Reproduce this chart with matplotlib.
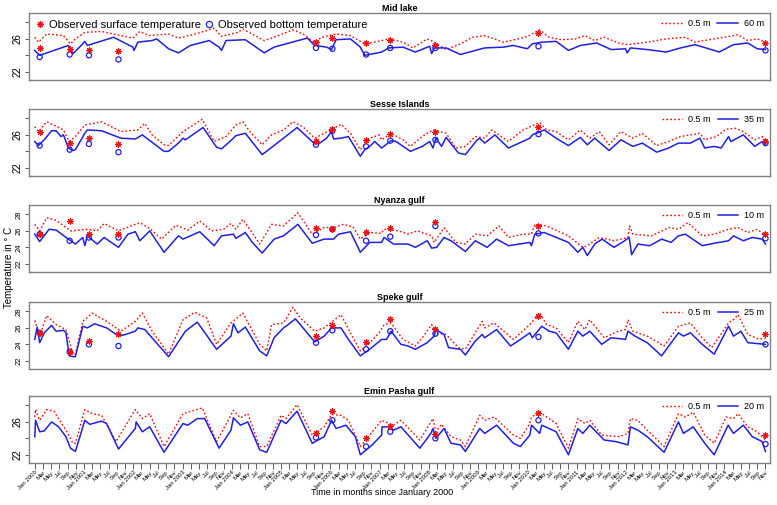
import matplotlib
matplotlib.use("Agg")
import matplotlib.pyplot as plt
from matplotlib.lines import Line2D

plt.rcParams['font.family'] = ['Liberation Sans', 'DejaVu Sans']

# months since Jan 2000
mid_bot_m = [0, 1.2, 8.2, 9.3, 11.7, 12.2, 12.8, 19.2, 23.9, 24.2, 25.1, 28.6, 29.7, 32.6, 35.0, 37.9, 42.5, 44.9, 45.5, 46.6,
             51.3, 55.9, 58.3, 61.2, 66.4, 68.2, 71.1, 72.3, 73.4, 76.9, 79.3, 80.4, 84.5, 86.2, 89.7, 92.7, 96.2, 96.7, 97.3,
             100.2, 103.7, 106.6, 109.6, 114.2, 116.6, 120.0, 121.2, 123.5, 127.0, 130.0, 132.9, 136.9, 140.4, 143.9, 144.3,
             145.1, 149.2, 153.8, 157.3, 160.8, 165.5, 166.7, 170.2, 173.7, 176.0, 178]
mid_bot_t = [24.6, 24.0, 25.2, 24.2, 25.4, 25.7, 25.2, 26.2, 25.0, 24.6, 25.6, 25.8, 26.0, 24.8, 24.3, 25.2, 25.8, 25.0, 24.6, 25.8,
             25.9, 24.3, 25.0, 25.4, 26.1, 25.2, 25.0, 24.7, 25.9, 26.0, 25.0, 24.0, 24.4, 24.9, 25.0, 24.4, 25.1, 24.2, 24.9,
             24.9, 24.1, 24.5, 24.9, 25.0, 25.2, 24.8, 25.4, 25.6, 25.7, 24.6, 25.2, 25.5, 24.7, 24.8, 24.3,
             24.9, 24.7, 24.4, 24.9, 25.3, 24.6, 24.4, 25.3, 25.5, 24.8, 24.7]
mid_surf_m = [0, 0.9, 2.9, 7.0, 8.7, 9.9, 12.2, 16.3, 21.0, 23.9, 25.6, 28.0, 32.6, 35.0, 38.5, 43.7, 45.5, 49.5, 50.7, 55.9,
              58.3, 62.9, 65.3, 68.2, 69.9, 73.4, 76.9, 80.4, 82.8, 86.2, 89.7, 92.1, 95.6, 97.3, 100.2, 103.7, 106.6, 109.6,
              114.2, 117.7, 120.0, 123.0, 125.3, 128.2, 131.7, 134.0, 136.4, 138.7, 142.2, 144.5, 149.2, 153.8, 158.5, 160.8,
              165.5, 171.3, 173.7, 176.0, 178]
mid_surf_t = [26.2, 25.6, 26.6, 26.4, 25.4, 26.0, 26.8, 26.9, 26.4, 26.1, 26.9, 26.4, 26.6, 26.1, 26.5, 27.3, 26.3, 26.8, 27.2, 25.8,
              26.2, 27.1, 26.6, 25.6, 26.2, 26.6, 26.4, 25.4, 25.6, 26.0, 25.6, 24.9, 26.0, 25.6, 24.7, 25.4, 26.2, 26.4,
              25.6, 26.0, 26.3, 27.1, 26.2, 25.9, 26.0, 26.4, 25.8, 26.2, 25.5, 25.3, 25.6, 26.0, 26.2, 25.6,
              26.0, 26.5, 25.8, 26.0, 25.6]

ses_bot_m = [0, 0.9, 2.3, 4.1, 5.2, 6.4, 7.0, 8.2, 9.3, 9.9, 12.2, 12.8, 16.3, 21.0, 24.5, 26.2, 31.5, 32.6, 35.0, 36.1, 36.7,
             41.0, 44.3, 45.5, 48.4, 49.0, 51.3, 55.4, 60.6, 63.9, 68.2, 69.4, 71.1, 72.3, 72.8, 74.6, 76.4, 79.3, 80.4, 81.6,
             82.8, 84.5, 86.8, 88.0, 91.5, 94.4, 96.2, 97.0, 97.7, 99.1, 100.2, 103.2, 104.9, 107.8, 108.4, 109.6, 112.1,
             115.4, 120.6, 121.2, 124.1, 127.0, 130.0, 132.9, 134.6, 136.4, 139.9, 142.8, 145.7, 148.0, 151.5, 154.4, 156.8,
             159.7, 162.0, 163.2, 165.5, 167.2, 169.0, 169.6, 172.6, 175.4, 177.2, 178]
ses_bot_t = [25.2, 24.7, 25.4, 26.5, 26.5, 25.8, 26.0, 24.4, 24.1, 24.2, 26.2, 26.6, 26.5, 25.6, 25.5, 26.0, 24.0, 24.0, 25.0, 25.6, 25.4,
             26.9, 24.5, 24.3, 25.6, 25.9, 26.2, 23.6, 25.6, 26.9, 24.9, 25.0, 25.6, 26.4, 25.5, 25.6, 25.8, 23.4, 24.2, 24.6,
             25.2, 24.4, 25.3, 25.2, 24.0, 24.6, 25.2, 24.4, 25.6, 24.6, 25.7, 23.8, 23.6, 25.4, 25.6, 25.0, 26.0,
             24.4, 25.6, 26.0, 26.6, 25.6, 24.7, 25.7, 24.8, 25.6, 24.1, 25.4, 24.6, 25.0, 23.9, 24.4, 25.0,
             25.0, 25.6, 24.4, 24.6, 24.4, 25.8, 25.2, 26.0, 24.6, 25.2, 24.8]
ses_surf_m = [0, 0.9, 2.9, 4.7, 7.0, 8.4, 9.9, 12.2, 16.3, 21.0, 25.1, 26.8, 28.6, 31.5, 32.6, 36.1, 40.8, 43.7, 46.6, 49.0, 50.7,
              52.4, 55.4, 57.7, 60.6, 62.9, 65.3, 68.2, 70.5, 72.8, 74.6, 76.9, 79.3, 81.6, 83.9, 84.5, 86.8, 89.7, 91.5, 94.4,
              96.2, 97.3, 100.2, 102.6, 104.9, 107.3, 109.6, 111.3, 115.4, 118.9, 123.0, 124.7, 127.0, 130.0, 132.9, 135.2,
              137.5, 139.9, 142.8, 145.7, 148.0, 151.5, 154.4, 157.3, 159.7, 162.0, 163.2, 166.1, 168.4, 170.7, 172.6, 175.4,
              177.2, 178]
ses_surf_t = [27.0, 26.4, 27.6, 27.2, 26.6, 25.2, 25.8, 27.2, 27.6, 26.4, 26.6, 27.4, 26.0, 24.8, 24.7, 26.4, 27.9, 25.2, 25.8, 27.2, 27.6,
              26.4, 24.8, 26.0, 26.6, 27.6, 27.0, 25.6, 26.2, 26.8, 27.3, 26.2, 24.2, 25.6, 26.0, 25.4, 26.2, 25.4, 24.6, 25.8,
              26.4, 26.6, 26.2, 24.4, 24.6, 25.8, 25.6, 26.6, 25.2, 26.6, 27.5, 26.6, 26.4, 25.4, 26.6, 25.6,
              26.4, 24.8, 26.4, 25.6, 26.2, 24.7, 25.2, 25.8, 26.0, 26.2, 25.4, 25.8, 26.7, 26.8, 26.4, 25.4,
              25.8, 25.4]

nya_bot_m = [0, 1.2, 3.5, 5.2, 8.2, 9.9, 11.7, 12.2, 12.8, 15.2, 16.9, 20.4, 22.7, 24.5, 25.6, 28.0, 31.5, 35.0, 36.1, 40.2, 43.7,
             45.5, 48.4, 49.0, 51.3, 53.0, 55.4, 58.3, 60.6, 64.1, 67.6, 70.5, 72.8, 74.0, 76.9, 79.3, 81.6, 84.5, 85.1, 87.4,
             90.9, 92.7, 95.6, 96.7, 97.9, 99.7, 101.4, 104.9, 107.3, 110.2, 112.5, 115.4, 120.6, 121.0, 121.8, 124.1, 130.0,
             132.3, 133.5, 134.6, 136.4, 138.2, 141.1, 143.4, 144.8, 145.4, 146.9, 149.8, 152.7, 155.0, 156.8, 158.5, 162.6,
             165.5, 169.0, 170.2, 172.6, 174.8, 177.2, 178]
nya_bot_t = [25.6, 24.7, 26.2, 26.1, 25.0, 24.4, 25.2, 24.2, 25.4, 24.4, 25.2, 24.0, 25.6, 25.9, 24.8, 26.0, 23.4, 25.4, 25.0, 25.9, 24.2,
             25.4, 25.6, 25.1, 25.8, 24.6, 23.3, 25.0, 25.4, 26.8, 24.5, 25.0, 25.0, 25.6, 25.9, 23.4, 24.6, 24.6, 25.2, 24.4,
             24.4, 24.0, 24.8, 23.9, 24.0, 25.2, 24.8, 23.5, 24.8, 24.0, 25.0, 24.2, 24.6, 24.2, 25.6, 25.8, 24.6,
             23.4, 24.0, 23.0, 24.4, 25.0, 24.0, 24.7, 25.2, 23.1, 24.4, 24.2, 25.0, 24.6, 25.4, 25.6, 24.2,
             24.5, 24.8, 25.4, 24.8, 25.2, 25.0, 24.4]
nya_surf_m = [0, 1.2, 2.9, 5.2, 8.7, 12.8, 15.2, 16.9, 20.4, 24.5, 25.6, 28.0, 30.9, 34.4, 37.3, 40.2, 43.1, 46.0, 47.8, 49.0, 50.7,
              54.8, 57.7, 60.6, 64.1, 67.6, 70.5, 72.8, 75.2, 77.5, 79.3, 81.6, 84.5, 85.1, 88.6, 90.9, 93.2, 96.7, 97.3, 99.7,
              102.6, 104.9, 107.3, 110.2, 113.1, 115.4, 118.9, 121.0, 121.8, 124.7, 130.0, 133.5, 134.6, 137.5, 141.1, 144.5,
              144.9, 145.7, 150.3, 154.4, 156.8, 159.1, 162.6, 165.5, 169.0, 171.3, 173.7, 176.0, 178]
nya_surf_t = [26.8, 26.0, 27.6, 27.3, 26.0, 26.2, 26.0, 26.9, 26.0, 26.8, 27.0, 26.3, 25.0, 26.7, 26.1, 27.2, 26.0, 26.2, 26.9, 26.2, 27.4,
              24.4, 26.8, 26.6, 28.2, 25.6, 26.4, 26.4, 26.8, 26.5, 25.0, 25.8, 25.7, 26.2, 26.0, 25.6, 26.0, 25.4, 24.6, 26.4,
              24.6, 24.4, 25.6, 25.4, 26.6, 25.2, 25.6, 25.6, 26.8, 26.6, 25.4, 24.0, 24.2, 25.2, 24.8, 25.2,
              26.6, 25.6, 25.4, 26.4, 26.2, 27.0, 25.4, 25.6, 26.2, 26.4, 25.8, 26.2, 25.4]

spk_bot_m = [0, 0.6, 1.2, 2.3, 4.1, 5.2, 7.0, 7.6, 8.4, 9.3, 9.9, 11.7, 12.8, 14.6, 17.5, 20.4, 22.1, 24.5, 25.1, 26.8, 32.6, 36.7,
             39.6, 44.3, 47.8, 48.4, 49.5, 51.3, 54.8, 56.5, 58.3, 60.6, 61.2, 63.5, 68.2, 70.5, 72.3, 74.6, 76.4, 79.3, 81.6,
             84.5, 85.7, 86.8, 89.2, 90.9, 92.7, 95.6, 97.3, 97.7, 99.7, 100.8, 103.7, 104.9, 107.3, 109.0, 109.6, 112.5,
             115.9, 118.9, 120.6, 121.2, 123.5, 125.3, 127.0, 130.0, 132.3, 133.5, 135.2, 138.1, 140.4, 143.9, 144.5, 146.2,
             149.2, 152.7, 156.8, 158.0, 159.7, 162.6, 165.5, 169.0, 170.2, 172.0, 173.7, 178]
spk_bot_t = [24.6, 26.1, 24.2, 25.4, 26.3, 25.6, 25.7, 25.4, 22.6, 22.5, 22.5, 26.2, 26.0, 26.5, 26.0, 25.0, 25.2, 25.6, 26.0, 25.8, 22.5, 25.6,
             26.7, 23.4, 25.0, 26.5, 25.4, 26.1, 23.2, 22.6, 24.8, 26.0, 26.2, 27.1, 24.3, 25.0, 26.0, 26.0, 24.6, 22.6, 23.4,
             24.6, 24.6, 25.6, 24.0, 23.8, 23.4, 24.2, 25.0, 25.8, 25.2, 23.6, 23.4, 22.7, 24.4, 25.2, 24.8, 25.8,
             23.8, 24.8, 25.4, 24.8, 26.2, 25.6, 25.4, 23.4, 25.6, 25.0, 25.6, 24.0, 24.8, 24.6, 25.6, 25.0,
             24.2, 22.6, 25.4, 25.0, 25.4, 24.0, 22.8, 26.2, 25.0, 25.6, 24.2, 24.0]
spk_surf_m = [0, 1.2, 2.9, 5.2, 7.6, 9.3, 9.9, 11.7, 14.0, 17.5, 21.0, 24.5, 26.2, 28.6, 32.6, 36.1, 39.0, 41.9, 44.3, 47.8, 50.7,
              54.8, 56.5, 57.7, 60.6, 62.9, 64.7, 68.2, 70.5, 74.6, 76.9, 79.3, 81.6, 83.9, 85.1, 86.8, 89.7, 92.7, 94.4, 96.7,
              97.3, 100.2, 103.2, 104.9, 107.3, 109.0, 109.6, 111.9, 116.6, 120.6, 123.0, 124.7, 127.0, 130.0, 132.3, 134.0,
              135.2, 138.7, 142.2, 143.9, 144.5, 145.7, 149.2, 153.3, 156.8, 159.7, 162.6, 164.9, 169.0, 170.2, 171.3, 173.7,
              176.0, 178]
spk_surf_t = [26.9, 25.0, 27.5, 26.4, 25.8, 22.8, 22.8, 26.8, 27.8, 26.8, 25.6, 26.8, 27.8, 25.6, 22.8, 27.0, 27.9, 27.2, 24.0, 26.6, 27.8,
              24.0, 23.2, 26.4, 26.6, 28.5, 27.2, 25.6, 26.0, 27.6, 25.4, 23.2, 24.2, 25.4, 26.4, 26.6, 24.6, 23.8, 24.8, 26.4,
              25.4, 25.2, 23.6, 23.4, 25.4, 26.8, 26.0, 26.6, 24.6, 26.4, 27.8, 26.4, 26.0, 24.2, 26.8, 25.8,
              27.0, 24.8, 25.6, 25.8, 27.0, 25.6, 25.0, 23.8, 26.2, 26.6, 24.8, 23.6, 26.6, 27.0, 27.6, 25.2,
              24.7, 24.7]

emp_bot_m = [0, 0.2, 1.2, 2.3, 4.1, 5.8, 7.6, 8.7, 9.9, 12.2, 13.4, 16.3, 17.5, 20.4, 24.5, 24.7, 26.2, 28.0, 31.5, 36.1, 37.3,
             39.6, 41.4, 44.9, 47.8, 48.4, 50.1, 51.9, 54.8, 56.5, 60.0, 61.2, 63.9, 67.6, 70.5, 72.3, 73.4, 75.8, 78.1, 79.3,
             82.2, 84.5, 84.6, 86.2, 87.4, 89.2, 93.8, 96.5, 97.0, 97.7, 99.7, 101.4, 103.7, 104.9, 108.4, 109.6, 112.5,
             116.6, 118.3, 120.6, 121.0, 123.0, 123.5, 127.0, 130.0, 132.3, 133.5, 135.2, 138.7, 141.6, 144.5, 145.1, 146.9,
             149.2, 153.3, 156.8, 158.0, 160.4, 163.2, 165.5, 168.9, 170.2, 172.6, 174.8, 177.2, 178]
emp_bot_t = [24.2, 26.2, 24.8, 24.9, 26.0, 25.4, 24.2, 22.8, 22.4, 26.2, 25.7, 26.1, 25.8, 22.7, 25.2, 26.0, 24.8, 25.4, 22.3, 25.8, 25.6,
             26.4, 26.4, 22.8, 25.0, 26.5, 25.6, 26.0, 22.6, 22.3, 26.2, 25.8, 27.3, 23.4, 24.2, 26.2, 25.2, 25.6, 24.2, 22.0,
             23.2, 24.4, 25.4, 25.4, 25.0, 25.4, 22.8, 24.6, 25.2, 24.0, 25.2, 23.4, 23.2, 22.4, 25.2, 24.6, 25.6,
             23.4, 23.0, 24.4, 25.6, 24.6, 25.6, 24.8, 22.0, 25.2, 24.6, 25.6, 23.8, 23.6, 23.2, 25.4, 25.0,
             24.2, 22.3, 26.0, 24.6, 25.4, 23.4, 22.0, 25.6, 24.6, 25.6, 24.2, 23.6, 22.4]
emp_surf_m = [0, 0.2, 1.2, 2.9, 4.7, 7.6, 9.3, 9.9, 12.2, 14.0, 16.3, 19.8, 24.5, 26.2, 28.0, 31.5, 36.1, 40.8, 44.3, 48.4, 50.1,
              51.9, 54.8, 56.5, 60.0, 61.2, 63.9, 67.6, 70.5, 72.3, 74.6, 76.4, 79.3, 81.6, 84.5, 87.4, 89.2, 93.8, 96.5, 97.0,
              97.7, 99.1, 101.4, 103.7, 104.9, 108.4, 109.6, 111.9, 116.6, 118.3, 120.6, 121.0, 123.0, 127.0, 130.0, 132.3,
              134.0, 135.2, 138.1, 142.2, 144.5, 145.1, 146.9, 149.2, 153.3, 156.8, 158.5, 160.4, 163.2, 165.5, 168.4, 170.2,
              171.3, 173.7, 176.0, 178]
emp_surf_t = [26.6, 27.5, 26.2, 27.5, 27.3, 25.0, 23.4, 23.4, 27.5, 27.0, 26.8, 23.6, 27.5, 26.4, 27.0, 23.0, 27.0, 27.7, 23.6, 27.4, 26.5,
              27.0, 23.0, 23.0, 26.8, 26.4, 28.1, 24.4, 25.4, 26.9, 26.8, 26.2, 23.0, 24.4, 26.2, 25.6, 26.2, 23.8, 26.0, 26.4,
              24.8, 25.7, 24.2, 23.8, 23.0, 26.8, 26.2, 26.6, 24.4, 24.0, 25.8, 26.6, 27.2, 25.8, 22.8, 26.4,
              25.8, 26.2, 24.4, 24.2, 24.6, 26.4, 26.2, 25.0, 23.0, 27.0, 26.6, 27.2, 24.4, 23.4, 26.6, 26.4,
              27.0, 25.4, 24.8, 23.8]

# observation dates and values (surface / bottom)
obs_m = [1.2, 8.5, 13.2, 20.4, 68.5, 72.5, 80.7, 86.6, 97.6, 122.7, 178]
mid_obs_s = [24.9, 24.8, 24.6, 24.5, 25.6, 26.1, 25.5, 25.9, 25.3, 26.7, 25.5]
mid_obs_b = [23.8, 24.1, 24.0, 23.5, 24.9, 24.8, 24.1, 24.9, 24.9, 25.1, 24.6]
ses_obs_s = [26.3, 25.0, 25.6, 24.9, 25.3, 26.7, 25.4, 26.1, 26.4, 26.9, 25.2]
ses_obs_b = [24.7, 24.2, 24.9, 23.9, 24.8, 26.5, 24.6, 25.3, 25.4, 26.1, 25.0]
nya_obs_s = [25.6, 27.2, 25.6, 25.6, 26.3, 26.2, 25.9, 26.4, 27.1, 26.6, 25.6]
nya_obs_b = [25.6, 24.8, 25.2, 25.2, 25.5, 26.2, 24.8, 25.3, 26.6, 25.7, 25.1]
spk_obs_s = [25.4, 23.1, 24.4, 25.2, 25.0, 26.4, 24.3, 27.1, 25.9, 27.5, 25.2]
spk_obs_b = [25.4, 23.1, 24.0, 23.8, 24.2, 25.7, 23.4, 25.6, 25.3, 24.9, 24.0]
emp_obs_m = [68.5, 72.5, 80.7, 86.6, 97.6, 122.7, 178]
emp_obs_s = [24.7, 27.3, 24.1, 25.5, 24.5, 27.1, 24.4]
emp_obs_b = [24.1, 26.2, 23.0, 24.8, 24.0, 26.2, 23.3]

titles = ["Mid lake", "Sesse Islands", "Nyanza gulf", "Speke gulf", "Emin Pasha gulf"]
depths = ["60 m", "35 m", "10 m", "25 m", "20 m"]

panels = [
    (mid_surf_m, mid_surf_t, mid_bot_m, mid_bot_t, obs_m, mid_obs_s, mid_obs_b),
    (ses_surf_m, ses_surf_t, ses_bot_m, ses_bot_t, obs_m, ses_obs_s, ses_obs_b),
    (nya_surf_m, nya_surf_t, nya_bot_m, nya_bot_t, obs_m, nya_obs_s, nya_obs_b),
    (spk_surf_m, spk_surf_t, spk_bot_m, spk_bot_t, obs_m, spk_obs_s, spk_obs_b),
    (emp_surf_m, emp_surf_t, emp_bot_m, emp_bot_t, emp_obs_m, emp_obs_s, emp_obs_b),
]

# x tick labels every two months
month_names = ["Jan", "Mar", "May", "Jul", "Sep", "Nov"]
tick_pos = list(range(0, 179, 2))
tick_lab = []
for p in tick_pos:
    name = month_names[(p % 12) // 2]
    if name == "Jan":
        name = "Jan %d" % (2000 + p // 12)
    tick_lab.append(name)

fig = plt.figure(figsize=(7.77, 5.05), dpi=100)
bottoms_px = [80, 176, 272, 369, 463]
frame_col = "#808080"
ast = (8, 2, 0)

for i, (sm, st, bm, bt, om, os_, ob) in enumerate(panels):
    ax = fig.add_axes([29 / 777, 1 - bottoms_px[i] / 505, 741 / 777, 67 / 505])
    ax.plot(sm, st, color="red", ls=(0, (1.2, 1.6)), lw=1.0, label="0.5 m")
    ax.plot(bm, bt, color="#1f1fe6", lw=1.1, label=depths[i])
    ax.scatter(om, ob, s=14, facecolors="none", edgecolors="#1f1fe6", linewidths=0.9, zorder=4)
    ax.scatter(om, os_, s=16, marker=ast, color="#f01010", linewidths=0.8, zorder=5)
    ax.set_xlim(-1.4, 179.1)
    ax.set_ylim(21.0, 29.15)
    ax.set_yticks([22, 24, 26, 28])
    if i in (2, 3):
        ax.set_yticklabels(["22", "24", "26", "28"], fontsize=5.5, rotation=90, va="center")
    else:
        ax.set_yticklabels(["22", "", "26", ""], fontsize=7, rotation=90, va="center")
    ax.tick_params(axis="y", length=3, width=0.6, pad=1.5, color="#444444")
    for sp in ax.spines.values():
        sp.set_color(frame_col)
        sp.set_linewidth(1.0)
    ax.set_title(titles[i], fontsize=6.5, fontweight="bold", pad=1)
    if i == 0:
        h = [Line2D([], [], ls="none", marker=ast, color="#f01010", ms=5, mew=0.8),
             Line2D([], [], ls="none", marker="o", mfc="none", mec="#1f1fe6", ms=4.5, mew=0.9)]
        leg2 = ax.legend(h, ["Observed surface temperature", "Observed bottom temperature"], loc="upper left",
                         ncol=2, frameon=False, fontsize=8, handlelength=0.8, handletextpad=0.4,
                         columnspacing=0.3, borderaxespad=0.2)
        ax.add_artist(leg2)
    ax.legend(loc="upper right", ncol=2, frameon=False, fontsize=6.5, handlelength=2.3,
              columnspacing=0.8, handletextpad=0.6, borderaxespad=0.3)
    if i == 4:
        ax.set_xticks(tick_pos)
        ax.set_xticklabels(tick_lab, fontsize=4.3, rotation=45, ha="right", rotation_mode="anchor")
        ax.tick_params(axis="x", length=4, width=0.6, pad=1, color="#444444")
    else:
        ax.set_xticks([])

fig.text(0.012, 0.47, "Temperature in \u00b0 C", rotation=90, fontsize=7, va="center", ha="center")
fig.text(0.492, 0.024, "Time in months since January 2000", fontsize=6.5, ha="center", va="center")

fig.savefig("out.png", dpi=100)
